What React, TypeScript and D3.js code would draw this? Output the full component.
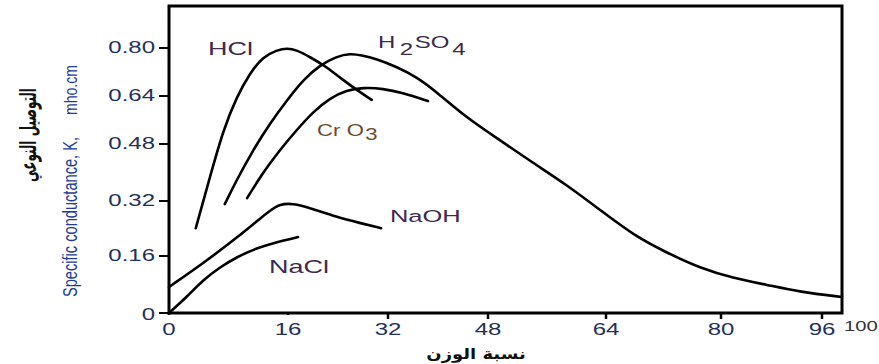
import * as d3 from "d3";

// tick values on both axes
const xTicks = [0, 16, 32, 48, 64, 80, 96];
const yTicks = [0, 0.16, 0.32, 0.48, 0.64, 0.8];

// curves: [weight %, K]
const hcl = [[3.6, 0.241], [5.5, 0.387], [7.3, 0.527], [9.1, 0.637], [10.9, 0.717], [12.6, 0.77], [14.5, 0.793], [15.9, 0.8], [17.4, 0.793], [19.5, 0.77], [22.2, 0.737], [24.8, 0.693], [27.5, 0.653], [29.4, 0.627]];
const h2so4 = [[7.5, 0.311], [9.1, 0.379], [11.3, 0.463], [13.6, 0.55], [15.9, 0.627], [18.4, 0.693], [21.1, 0.743], [23.8, 0.772], [25.9, 0.782], [28, 0.775], [30.2, 0.763], [33.4, 0.737], [36.6, 0.703], [39.8, 0.653], [44.6, 0.567], [49.6, 0.493], [54.1, 0.427], [58.7, 0.365], [63.2, 0.294], [67.8, 0.221], [72.5, 0.169], [77.1, 0.126], [81.9, 0.098], [87.3, 0.079], [92.5, 0.059], [100, 0.045]];
const cro3 = [[10.5, 0.328], [12.6, 0.399], [14.9, 0.463], [17.4, 0.527], [20, 0.587], [22.7, 0.633], [25.4, 0.66], [28, 0.668], [31.2, 0.665], [34.4, 0.65], [38.4, 0.623]];
const naoh = [[0, 0.073], [4.6, 0.14], [9.1, 0.212], [13.6, 0.294], [14.9, 0.311], [16.8, 0.313], [19.5, 0.3], [23.8, 0.273], [27.5, 0.256], [30.9, 0.241]];
const nacl = [[0, 0], [2.4, 0.045], [4.6, 0.093], [6.9, 0.129], [9.1, 0.157], [11.8, 0.183], [14.5, 0.201], [17.6, 0.215]];

const series = [hcl, h2so4, cro3, naoh, nacl];

export default function App() {
    // the scanned axes are not evenly spaced, so the scales are piecewise
    const x = d3.scaleLinear()
        .domain([0, 16, 32, 48, 64, 80, 96, 100])
        .range([169, 288, 388, 488, 606, 721, 822, 842]);
    const y = d3.scaleLinear()
        .domain([0, 0.16, 0.32, 0.48, 0.64, 0.8])
        .range([313, 256, 201, 144, 96, 48]);

    const line = d3.line<number[]>()
        .x(d => x(d[0]))
        .y(d => y(d[1]))
        .curve(d3.curveBasis);

    const sx = 1.5;
    const font = "Liberation Sans, Arial, sans-serif";
    const labelColor = "#3d2a4f";
    const tickColor = "#22305a";

    const at = (px: number, py: number) => `translate(${px},${py}) scale(${sx},1)`;

    return (
        <svg width={879} height={364} style={{position: "absolute", left: 0, top: 0, background: "#fff"}}
             fontFamily={font}>
            {series.map((s, i) => (
                <path key={i} d={line(s) ?? ""} fill="none" stroke="#000" strokeWidth={2.6}
                      strokeLinejoin="round" strokeLinecap="round"/>
            ))}

            <rect x={x(0)} y={6} width={x(100) - x(0)} height={y(0) - 6}
                  fill="none" stroke="#000" strokeWidth={3}/>

            {yTicks.map(t => (
                <g key={t}>
                    <line x1={x(0) - 10} x2={x(0)} y1={y(t)} y2={y(t)} stroke="#000" strokeWidth={2}/>
                    <text transform={at(155, y(t) + (t === 0 ? 2 : 0))} textAnchor="end"
                          dominantBaseline="central" fontSize={16} fill={tickColor}>
                        {t === 0 ? "0" : t.toFixed(2)}
                    </text>
                </g>
            ))}

            {xTicks.map(t => (
                <g key={t}>
                    <line x1={x(t)} x2={x(t)} y1={y(0)} y2={y(0) + (t === 0 || t === 16 ? 2 : 6)}
                          stroke="#000" strokeWidth={2.5}/>
                    <text transform={at(x(t), 335)} textAnchor="middle" fontSize={16} fill={tickColor}>
                        {t}
                    </text>
                </g>
            ))}
            <text transform={`translate(844,331) scale(1.35,1)`} fontSize={15} fill="#333">100</text>

            {/* curve labels */}
            <text transform={at(x(5.24), y(0.777))} fontSize={18} fill={labelColor}>HCl</text>
            <text transform={at(x(30.4), y(0.8))} fontSize={16} fill={labelColor}>
                H<tspan dy={7} dx={3}>2</tspan><tspan dy={-7} dx={1}>SO</tspan><tspan dy={7} dx={2}>4</tspan>
            </text>
            <text transform={`translate(${x(20.64)},${y(0.507)}) scale(1.3,1)`} fontSize={17} fill="#6b4a2e">
                Cr<tspan dx={5}>O</tspan><tspan dy={4} dx={1}>3</tspan>
            </text>
            <text transform={at(x(32.3), y(0.259))} fontSize={17} fill={labelColor}>NaOH</text>
            <text transform={at(x(13.44), y(0.112))} fontSize={18} fill={labelColor}>NaCl</text>

            {/* axis titles */}
            <text transform={`translate(77,297) scale(1.35,1) rotate(-90)`} fontSize={14.5} fill="#1f3c96"
                  textLength={160} lengthAdjust="spacingAndGlyphs">Specific conductance, K,</text>
            <text transform={`translate(77,115) scale(1.35,1) rotate(-90)`} fontSize={14} fill="#1f3c96"
                  textLength={50} lengthAdjust="spacingAndGlyphs">mho.cm</text>
            <text transform={`translate(36,135) scale(1.4,1) rotate(-90)`} fontSize={16}
                  fontFamily="DejaVu Sans" fontWeight="bold" textAnchor="middle" fill="#111"
                  textLength={94} lengthAdjust="spacingAndGlyphs">التوصيل النوعي</text>
            <text transform={`translate(476,359) scale(1.2,1)`} fontSize={15}
                  fontFamily="DejaVu Sans" fontWeight="bold" textAnchor="middle" fill="#111">نسبة الوزن</text>
        </svg>
    );
}
